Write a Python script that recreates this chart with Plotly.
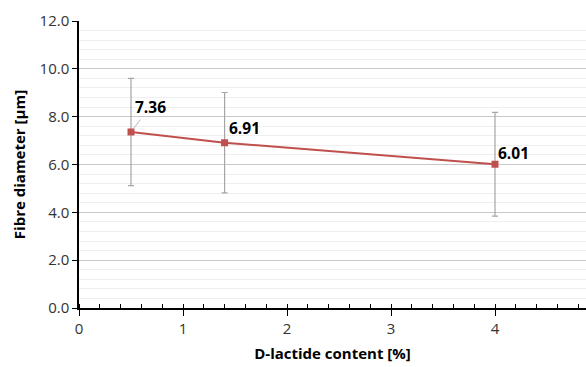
import plotly.graph_objects as go

d_lactide = [0.5, 1.4, 4.0]
fibre_diameter = [7.36, 6.91, 6.01]
std_dev = [2.24, 2.10, 2.17]
labels = ["7.36", "6.91", "6.01"]
y_ticks = [0, 2, 4, 6, 8, 10, 12]
y_tick_text = ["0.0", "2.0", "4.0", "6.0", "8.0", "10.0", "12.0"]
x_ticks = [0, 1, 2, 3, 4]

FONT = "Open Sans"

fig = go.Figure()
fig.add_trace(go.Scatter(
    x=d_lactide, y=fibre_diameter, mode="lines+markers",
    line=dict(color="#c0504d", width=2),
    marker=dict(symbol="square", size=7, color="#c0504d"),
    error_y=dict(type="data", array=std_dev, visible=True,
                 color="#a6a6a6", thickness=1.2, width=3),
    showlegend=False, cliponaxis=False,
))

# data labels
offsets = [(19, -25, True), (20, -15, False), (18, -11, False)]
for x, y, t, (dx, dy, arrow) in zip(d_lactide, fibre_diameter, labels, offsets):
    if arrow:
        fig.add_annotation(x=x, y=y, text="<b>" + t + "</b>", showarrow=True,
                           arrowhead=0, arrowcolor="#a6a6a6", arrowwidth=0.8,
                           ax=dx, ay=dy, standoff=3,
                           font=dict(family=FONT, size=15.5, color="black"))
    else:
        fig.add_annotation(x=x, y=y, text="<b>" + t + "</b>", showarrow=False,
                           xshift=dx, yshift=-dy,
                           font=dict(family=FONT, size=15.5, color="black"))

fig.update_layout(
    width=586, height=367,
    margin=dict(l=79, r=0, t=21, b=59),
    paper_bgcolor="white", plot_bgcolor="white",
    font=dict(family=FONT, size=15, color="#333333"),
    xaxis=dict(
        range=[0, 4.875], tickvals=x_ticks, ticks="outside", ticklen=6,
        tickcolor="black", showline=True, linecolor="black", linewidth=1.5,
        showgrid=False, zeroline=False, automargin=False,
        tickfont=dict(family=FONT, size=15, color="#333333"),
        minor=dict(dtick=0.2, tick0=0, ticks="inside", ticklen=4,
                   tickcolor="black", showgrid=False),
        title=dict(text="<b>D-lactide content [%]</b>", standoff=12,
                   font=dict(family=FONT, size=15, color="black")),
    ),
    yaxis=dict(
        range=[0, 12], tickvals=y_ticks, ticktext=y_tick_text,
        ticks="outside", ticklen=5, tickcolor="black",
        showline=True, linecolor="black", linewidth=1.5,
        showgrid=True, gridcolor="#c8c8c8", gridwidth=1, zeroline=False,
        automargin=False,
        tickfont=dict(family=FONT, size=15, color="#333333"),
        minor=dict(dtick=0.4, tick0=0, showgrid=True, gridcolor="#efefef",
                   gridwidth=1),
        title=dict(text="<b>Fibre diameter [µm]</b>", standoff=10,
                   font=dict(family=FONT, size=15, color="black")),
    ),
)

fig.write_html("out.html", config={"displayModeBar": False},
               post_script="document.body.style.margin='0';document.body.style.overflow='hidden';")
